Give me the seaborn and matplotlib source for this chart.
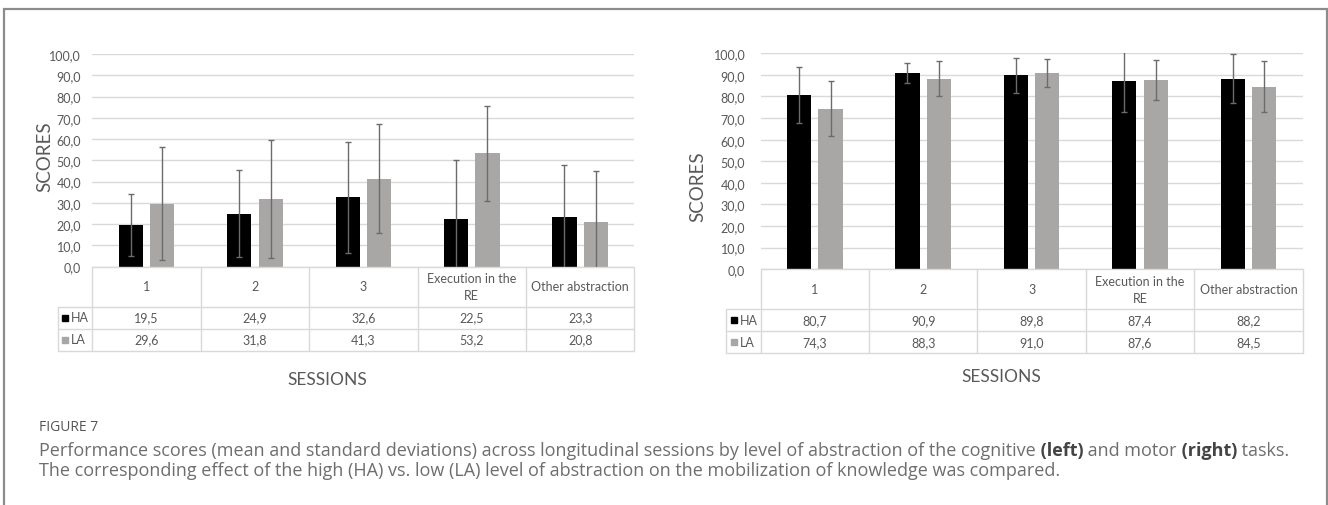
import numpy as np
import pandas as pd
import matplotlib
matplotlib.use("Agg")
import matplotlib.pyplot as plt
import matplotlib.transforms as mtransforms
from matplotlib.patches import Rectangle
from matplotlib.ticker import FuncFormatter
import seaborn as sns

sns.set_theme(style="white")
plt.rcParams["font.family"] = ["Lato", "DejaVu Sans"]

# data
sessions = ["1", "2", "3", "Execution in the\nRE", "Other abstraction"]
groups = ["HA", "LA"]

cog_ha = [19.5, 24.9, 32.6, 22.5, 23.3]
cog_la = [29.6, 31.8, 41.3, 53.2, 20.8]
cog_ha_sd = [14.4, 20.3, 26.2, 27.7, 24.3]
cog_la_sd = [26.6, 27.6, 25.6, 22.5, 24.3]

mot_ha = [80.7, 90.9, 89.8, 87.4, 88.2]
mot_la = [74.3, 88.3, 91.0, 87.6, 84.5]
mot_ha_sd = [13.1, 4.6, 8.0, 14.6, 11.4]
mot_la_sd = [12.7, 8.0, 6.4, 9.2, 11.8]

yticks = np.arange(0, 101, 10)

colors = {"HA": "#000000", "LA": "#a9a6a6"}
txt = "#595959"
grid = "#d9d9d9"

W, H = 1328, 506
fig = plt.figure(figsize=(W / 100, H / 100), dpi=100)


def px_axes(x0, y0, x1, y1):
    return fig.add_axes([x0 / W, 1 - y1 / H, (x1 - x0) / W, (y1 - y0) / H])


def draw_chart(ax, ha, la, ha_sd, la_sd, label_pad):
    df = pd.DataFrame({
        "session": sessions * 2,
        "group": ["HA"] * 5 + ["LA"] * 5,
        "score": ha + la,
    })
    sns.barplot(data=df, x="session", y="score", hue="group", order=sessions,
                hue_order=groups, palette=colors, saturation=1, width=0.58,
                gap=0.234, errorbar=None, legend=False, linewidth=0, ax=ax)
    for cont, sd in zip(ax.containers, [ha_sd, la_sd]):
        xs = [b.get_x() + b.get_width() / 2 for b in cont]
        ys = [b.get_height() for b in cont]
        ax.errorbar(xs, ys, yerr=sd, fmt="none", ecolor="#6b6b6b",
                    elinewidth=1, capsize=2.2, capthick=1, zorder=3)
    ax.set_xlim(-0.5, 4.5)
    ax.set_ylim(0, 100)
    ax.set_yticks(yticks)
    ax.yaxis.set_major_formatter(FuncFormatter(lambda v, p: f"{v:.1f}".replace(".", ",")))
    ax.tick_params(axis="y", length=0, pad=label_pad, labelsize=9, labelcolor=txt)
    ax.set_xticks([])
    ax.set_xlabel("")
    ax.set_ylabel("")
    for s in ax.spines.values():
        s.set_visible(False)
    ax.yaxis.grid(True, color=grid, lw=1)
    ax.set_axisbelow(True)

    # data table under the plot
    hpx = ax.get_position().height * H
    tr = mtransforms.blended_transform_factory(ax.transData, ax.transAxes)
    rows = [0, 40, 62, 84]
    f = [-r / hpx for r in rows]
    kw = dict(transform=tr, color=grid, lw=1, clip_on=False)
    xleft = -0.82
    ax.plot([-0.5, 4.5], [f[0], f[0]], **kw)
    for y in f[1:]:
        ax.plot([xleft, 4.5], [y, y], **kw)
    for i in range(6):
        ax.plot([i - 0.5, i - 0.5], [f[0], f[3]], **kw)
    ax.plot([xleft, xleft], [f[1], f[3]], **kw)
    for i, name in enumerate(sessions):
        ax.text(i, (f[0] + f[1]) / 2, name, transform=tr, ha="center",
                va="center", fontsize=9, color=txt, linespacing=1.5)
    for r, (g, vals) in enumerate(zip(groups, [ha, la])):
        yc = (f[r + 1] + f[r + 2]) / 2
        ax.plot([-0.75], [yc], marker="s", ms=4.5, color=colors[g],
                transform=tr, clip_on=False, lw=0)
        ax.text(-0.695, yc, g, transform=tr, ha="left", va="center",
                fontsize=9, color=txt)
        for i, v in enumerate(vals):
            ax.text(i, yc, f"{v:.1f}".replace(".", ","), transform=tr,
                    ha="center", va="center", fontsize=9, color=txt)


ax1 = px_axes(92.3, 55, 634.4, 267.5)
draw_chart(ax1, cog_ha, cog_la, cog_ha_sd, cog_la_sd, 8)
ax2 = px_axes(760.6, 54.3, 1302.6, 270.2)
draw_chart(ax2, mot_ha, mot_la, mot_ha_sd, mot_la_sd, 11)

fig.text(44.5 / W, 1 - 157 / H, "SCORES", rotation=90, ha="center",
         va="center", fontsize=13.5, color=txt)
fig.text(698 / W, 1 - 187 / H, "SCORES", rotation=90, ha="center",
         va="center", fontsize=13.5, color=txt)
fig.text(327 / W, 1 - 380 / H, "SESSIONS", ha="center", va="center",
         fontsize=12.5, color=txt)
fig.text(1001 / W, 1 - 377 / H, "SESSIONS", ha="center", va="center",
         fontsize=12.5, color=txt)

# outer frame and caption
fig.add_artist(Rectangle((4 / W, -0.1), 1323 / W, 1.1 - 10 / H,
                         transform=fig.transFigure, fill=False,
                         edgecolor="#8c8c8c", lw=1.6, clip_on=False))

cap_font = ["Open Sans", "Noto Sans", "DejaVu Sans"]
fig.text(39 / W, 1 - 428 / H, "FIGURE 7", ha="left", va="center",
         fontsize=10, color="#555555", family=cap_font)

bg = fig.add_axes([0, 0, 1, 1], zorder=-1)
bg.set_axis_off()
line1 = [
    ("Performance scores (mean and standard deviations) across longitudinal "
     "sessions by level of abstraction of the cognitive", "normal"),
    (" (left)", "bold"),
    (" and motor", "normal"),
    (" (right)", "bold"),
    (" tasks.", "normal"),
]
cap_size = 13.0
y1 = 1 - 456 / H
prev = fig.text(39 / W, y1, line1[0][0], ha="left", va="baseline",
                fontsize=cap_size, color="#6e6e6e", family=cap_font)
for s, wgt in line1[1:]:
    prev = bg.annotate(s, xy=(1, y1), xycoords=(prev, "figure fraction"),
                       ha="left", va="baseline", fontsize=cap_size,
                       fontweight=wgt, family=cap_font,
                       color="#444444" if wgt == "bold" else "#6e6e6e")
fig.text(39 / W, 1 - 476 / H,
         "The corresponding effect of the high (HA) vs. low (LA) level of "
         "abstraction on the mobilization of knowledge was compared.",
         ha="left", va="baseline", fontsize=cap_size, color="#6e6e6e",
         family=cap_font)

fig.savefig("out.png", dpi=100)
